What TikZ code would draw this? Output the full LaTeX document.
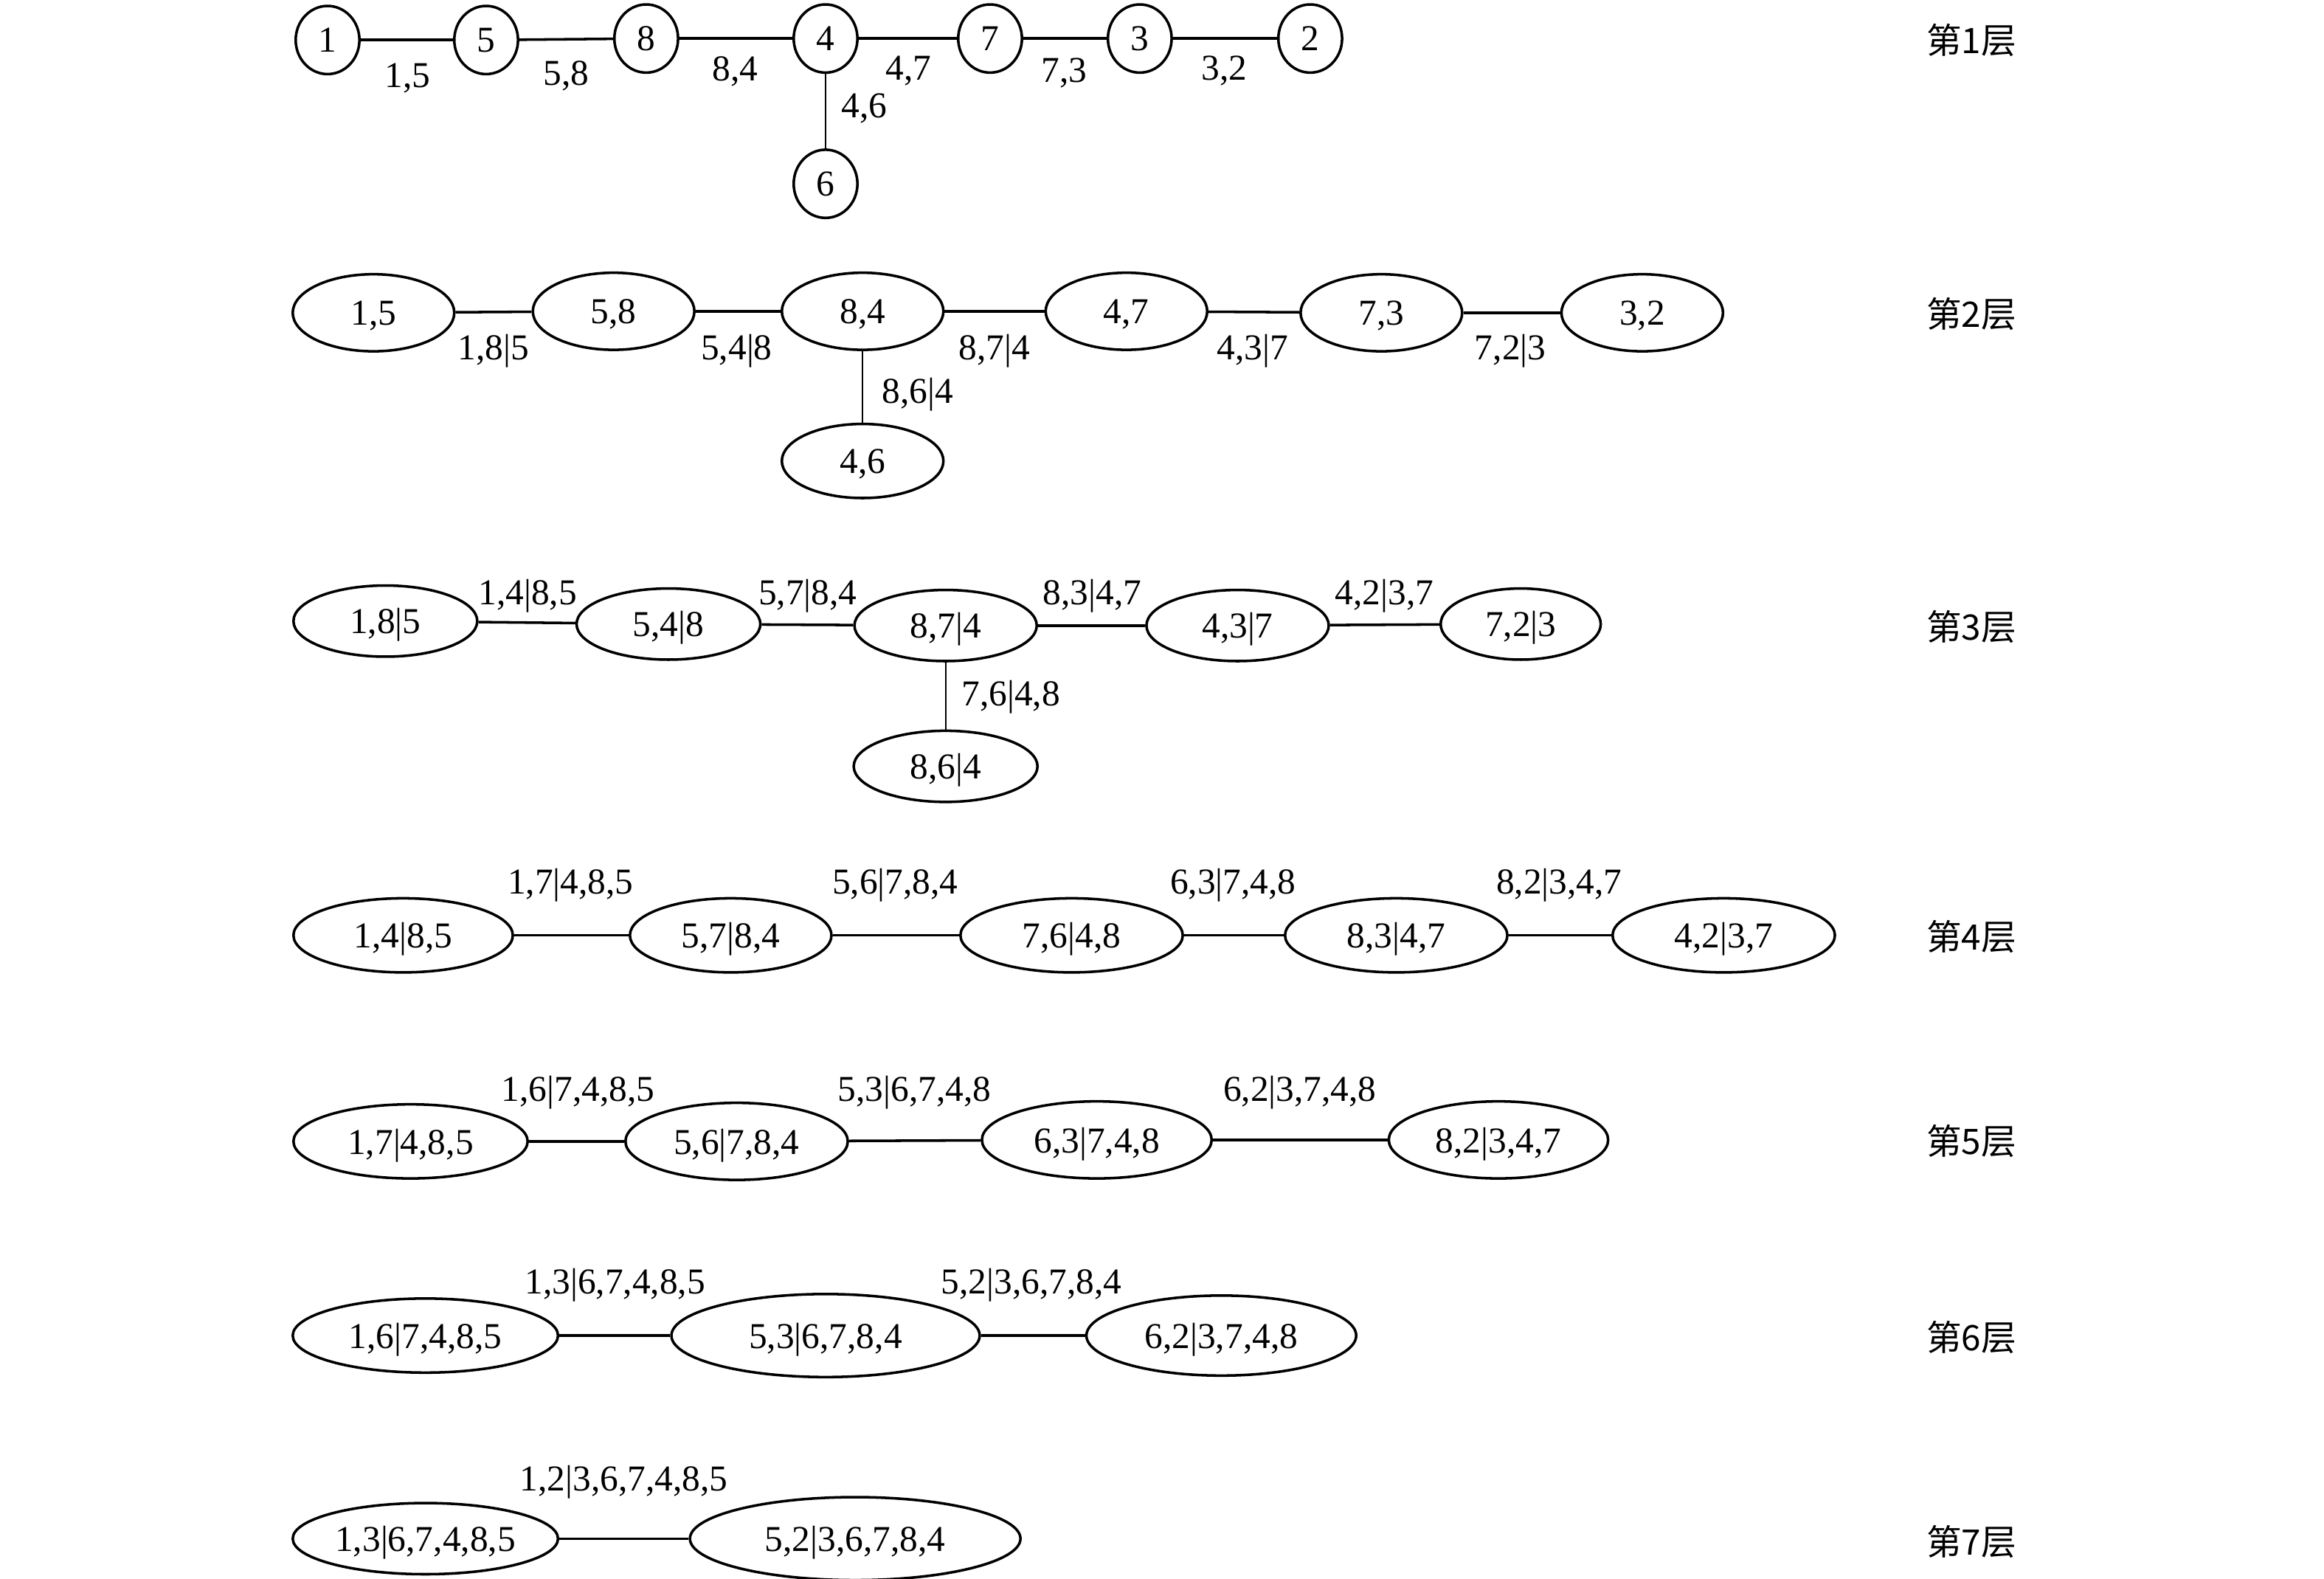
\documentclass[tikz,border=0pt]{standalone}
\usepackage{fontspec}
\setmainfont{Liberation Serif}
\newfontfamily\cjk{Noto Sans CJK SC}
\usetikzlibrary{shapes.geometric}
\newlength\pxu
\setlength\pxu{0.02cm}
\tikzset{
  ell/.style 2 args={ellipse,draw,line width=1pt,inner sep=0pt,text depth=0pt,minimum width=#1\pxu,minimum height=#2\pxu,font=\fontsize{14}{16}\selectfont},
  lbl/.style={inner sep=0pt,font=\fontsize{14}{16}\selectfont},
  lay/.style={inner sep=0pt,font=\cjk\fontsize{13.5}{16}\selectfont},
  edge/.style={line width=1pt},
  vedge/.style={line width=0.6pt}
}
\begin{document}
\begin{tikzpicture}[x=0.02cm,y=-0.02cm]
\useasboundingbox (0,0) rectangle (1568,1065);
% layer labels
\node[lay] (L1) at (1330,27) {第1层};
\node[lay] (L2) at (1330,212) {第2层};
\node[lay] (L3) at (1330,423) {第3层};
\node[lay] (L4) at (1330,632) {第4层};
\node[lay] (L5) at (1330,770) {第5层};
\node[lay] (L6) at (1330,902) {第6层};
\node[lay] (L7) at (1330,1040) {第7层};
% layer 1
\node[ell={43}{46}] (a1) at (221,27) {1};
\node[ell={43}{46}] (a5) at (328,27) {5};
\node[ell={43}{46}] (a8) at (436,26) {8};
\node[ell={43}{46}] (a4) at (557,26) {4};
\node[ell={43}{46}] (a7) at (668,26) {7};
\node[ell={43}{46}] (a3) at (769,26) {3};
\node[ell={43}{46}] (a2) at (884,26) {2};
\node[ell={43}{46}] (a6) at (557,124) {6};
\draw[edge] (a1) -- (a5);
\draw[edge] (a5) -- (a8);
\draw[edge] (a8) -- (a4);
\draw[edge] (a4) -- (a7);
\draw[edge] (a7) -- (a3);
\draw[edge] (a3) -- (a2);
\draw[vedge] (a4) -- (a6);
\node[lbl] (e15) at (275,53) {1,5};
\node[lbl] (e58) at (382,51) {5,8};
\node[lbl] (e84) at (496,48) {8,4};
\node[lbl] (e47) at (613,48) {4,7};
\node[lbl] (e73) at (718,49) {7,3};
\node[lbl] (e32) at (826,48) {3,2};
\node[lbl] (e46) at (583,73) {4,6};
% layer 2
\node[ell={109}{52}] (b15) at (252,211) {1,5};
\node[ell={109}{52}] (b58) at (414,210) {5,8};
\node[ell={109}{52}] (b84) at (582,210) {8,4};
\node[ell={109}{52}] (b47) at (760,210) {4,7};
\node[ell={109}{52}] (b73) at (932,211) {7,3};
\node[ell={109}{52}] (b32) at (1108,211) {3,2};
\node[ell={109}{50}] (b46) at (582,311) {4,6};
\draw[edge] (b15) -- (b58);
\draw[edge] (b58) -- (b84);
\draw[edge] (b84) -- (b47);
\draw[edge] (b47) -- (b73);
\draw[edge] (b73) -- (b32);
\draw[vedge] (b84) -- (b46);
\node[lbl] (f1) at (333,237) {1,8|5};
\node[lbl] (f2) at (497,237) {5,4|8};
\node[lbl] (f3) at (671,237) {8,7|4};
\node[lbl] (f4) at (845,237) {4,3|7};
\node[lbl] (f5) at (1019,237) {7,2|3};
\node[lbl] (f6) at (619,266) {8,6|4};
% layer 3
\node[ell={124}{48}] (c1) at (260,419) {1,8|5};
\node[ell={124}{48}] (c2) at (451,421) {5,4|8};
\node[ell={123}{48}] (c3) at (638,422) {8,7|4};
\node[ell={123}{48}] (c4) at (835,422) {4,3|7};
\node[ell={108}{48}] (c5) at (1026,421) {7,2|3};
\node[ell={124}{48}] (c6) at (638,517) {8,6|4};
\draw[edge] (c1) -- (c2);
\draw[edge] (c2) -- (c3);
\draw[edge] (c3) -- (c4);
\draw[edge] (c4) -- (c5);
\draw[vedge] (c3) -- (c6);
\node[lbl] (g1) at (356,402) {1,4|8,5};
\node[lbl] (g2) at (545,402) {5,7|8,4};
\node[lbl] (g3) at (737,402) {8,3|4,7};
\node[lbl] (g4) at (934,402) {4,2|3,7};
\node[lbl] (g5) at (682,470) {7,6|4,8};
% layer 4
\node[ell={148}{50}] (d1) at (272,631) {1,4|8,5};
\node[ell={136}{50}] (d2) at (493,631) {5,7|8,4};
\node[ell={150}{50}] (d3) at (723,631) {7,6|4,8};
\node[ell={150}{50}] (d4) at (942,631) {8,3|4,7};
\node[ell={150}{50}] (d5) at (1163,631) {4,2|3,7};
\draw[edge] (d1) -- (d2);
\draw[edge] (d2) -- (d3);
\draw[edge] (d3) -- (d4);
\draw[edge] (d4) -- (d5);
\node[lbl] (h1) at (385,597) {1,7|4,8,5};
\node[lbl] (h2) at (604,597) {5,6|7,8,4};
\node[lbl] (h3) at (832,597) {6,3|7,4,8};
\node[lbl] (h4) at (1052,597) {8,2|3,4,7};
% layer 5
\node[ell={158}{50}] (k1) at (277,770) {1,7|4,8,5};
\node[ell={150}{52}] (k2) at (497,770) {5,6|7,8,4};
\node[ell={155}{52}] (k3) at (740,769) {6,3|7,4,8};
\node[ell={148}{52}] (k4) at (1011,769) {8,2|3,4,7};
\draw[edge] (k1) -- (k2);
\draw[edge] (k2) -- (k3);
\draw[edge] (k3) -- (k4);
\node[lbl] (m1) at (390,737) {1,6|7,4,8,5};
\node[lbl] (m2) at (617,737) {5,3|6,7,4,8};
\node[lbl] (m3) at (877,737) {6,2|3,7,4,8};
% layer 6
\node[ell={179}{50}] (n1) at (287,901) {1,6|7,4,8,5};
\node[ell={208}{56}] (n2) at (557,901) {5,3|6,7,8,4};
\node[ell={182}{54}] (n3) at (824,901) {6,2|3,7,4,8};
\draw[edge] (n1) -- (n2);
\draw[edge] (n2) -- (n3);
\node[lbl] (p1) at (415,867) {1,3|6,7,4,8,5};
\node[lbl] (p2) at (696,867) {5,2|3,6,7,8,4};
% layer 7
\node[ell={179}{48}] (q1) at (287,1038) {1,3|6,7,4,8,5};
\node[ell={223}{56}] (q2) at (577,1038) {5,2|3,6,7,8,4};
\draw[edge] (q1) -- (q2);
\node[lbl] (r1) at (421,1000) {1,2|3,6,7,4,8,5};
\end{tikzpicture}
\end{document}
